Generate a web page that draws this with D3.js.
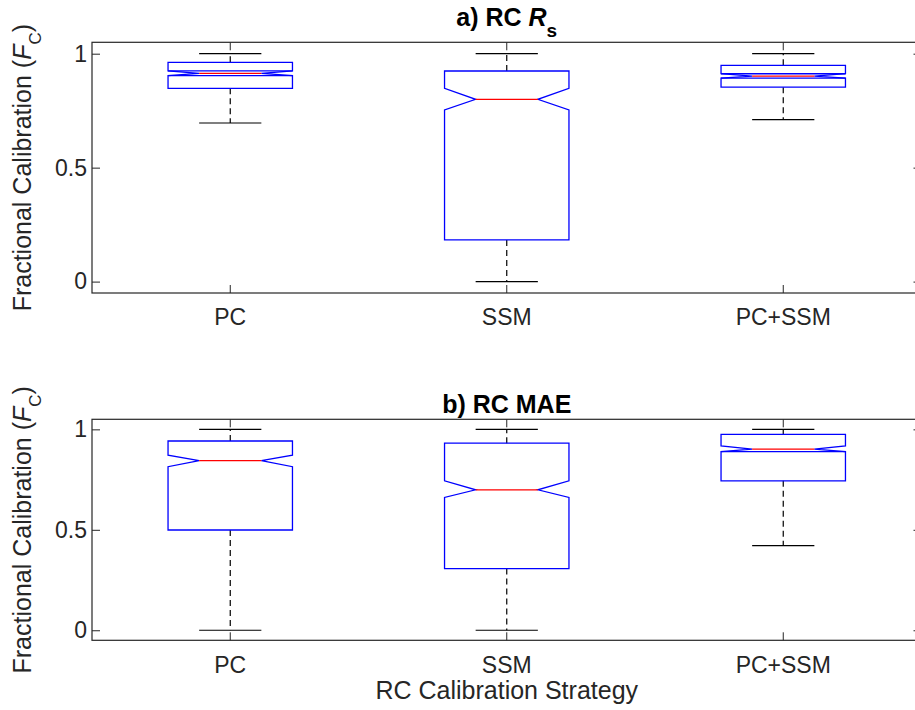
<!DOCTYPE html>
<html>
<head>
<meta charset="utf-8">
<script src="https://d3js.org/d3.v7.min.js"></script>
<style>
  body { margin: 0; background: #ffffff; }
  text { font-family: "Liberation Sans", Arial, sans-serif; fill: #262626; }
  .tick line { stroke: #262626; stroke-width: 1px; }
  .tick text { font-size: 23px; fill: #262626; }
</style>
</head>
<body>
<div id="chart"></div>
<script>

// categories and ticks
const strategies = ["PC", "SSM", "PC+SSM"];
const yTicks = [0, 0.5, 1];

// a) RC Rs  (box stats read off the picture)
const rsWhiskerHi = [1, 1, 1];
const rsQ3        = [0.962, 0.924, 0.949];
const rsNotchHi   = [0.925, 0.848, 0.912];
const rsMedian    = [0.914, 0.800, 0.902];
const rsNotchLo   = [0.904, 0.753, 0.893];
const rsQ1        = [0.848, 0.183, 0.853];
const rsWhiskerLo = [0.696, 0, 0.711];
const rsFoldHi    = [true, false, true];
const rsFoldLo    = [true, false, true];

// b) RC MAE
const maeWhiskerHi = [1, 1, 1];
const maeQ3        = [0.942, 0.931, 0.975];
const maeNotchHi   = [0.871, 0.744, 0.917];
const maeMedian    = [0.844, 0.699, 0.902];
const maeNotchLo   = [0.814, 0.661, 0.889];
const maeQ1        = [0.499, 0.307, 0.744];
const maeWhiskerLo = [0, 0, 0.421];
const maeFoldHi    = [false, false, false];
const maeFoldLo    = [false, false, true];

const W = 915, H = 710;
const left = 92, right = 921.5;

const svg = d3.select("#chart").append("svg")
  .attr("width", W)
  .attr("height", H);

const x = d3.scaleBand()
  .domain(strategies)
  .range([left, right])
  .paddingInner(0)
  .paddingOuter(0);

const panels = [
  { top: 42.3, bottom: 293, titleY: 26, title: "rs",
    whiskerHi: rsWhiskerHi, q3: rsQ3, notchHi: rsNotchHi, median: rsMedian,
    notchLo: rsNotchLo, q1: rsQ1, whiskerLo: rsWhiskerLo, foldHi: rsFoldHi, foldLo: rsFoldLo },
  { top: 419.3, bottom: 640.3, titleY: 413, title: "mae",
    whiskerHi: maeWhiskerHi, q3: maeQ3, notchHi: maeNotchHi, median: maeMedian,
    notchLo: maeNotchLo, q1: maeQ1, whiskerLo: maeWhiskerLo, foldHi: maeFoldHi, foldLo: maeFoldLo }
];

panels.forEach(function(p) {
  const y = d3.scaleLinear().domain([-0.05, 1.05]).range([p.bottom, p.top]);
  const g = svg.append("g");

  // ticks on all four sides, pointing inwards
  g.append("g")
    .attr("transform", `translate(${left},0)`)
    .call(d3.axisLeft(y).tickValues(yTicks).tickSizeInner(-8).tickSizeOuter(0).tickPadding(5).tickFormat(d3.format("")))
    .call(a => a.select(".domain").remove());
  g.append("g")
    .attr("transform", `translate(${right},0)`)
    .call(d3.axisRight(y).tickValues(yTicks).tickSizeInner(-8).tickSizeOuter(0).tickFormat(""))
    .call(a => a.select(".domain").remove());
  g.append("g")
    .attr("transform", `translate(0,${p.bottom})`)
    .call(d3.axisBottom(x).tickSizeInner(-8).tickSizeOuter(0).tickPadding(16))
    .call(a => a.select(".domain").remove());
  g.append("g")
    .attr("transform", `translate(0,${p.top})`)
    .call(d3.axisTop(x).tickSizeInner(-8).tickSizeOuter(0).tickFormat(""))
    .call(a => a.select(".domain").remove());

  // frame
  g.append("rect")
    .attr("x", left).attr("y", p.top)
    .attr("width", right - left).attr("height", p.bottom - p.top)
    .attr("fill", "none")
    .attr("stroke", "#262626")
    .attr("stroke-width", 1.2);

  const bw = x.bandwidth();
  const hw = bw * 0.225, inner = hw / 2;

  strategies.forEach(function(s, i) {
    const cx = x(s) + bw / 2;

    // whiskers
    g.append("line")
      .attr("x1", cx).attr("x2", cx)
      .attr("y1", y(p.q3[i])).attr("y2", y(p.whiskerHi[i]))
      .attr("stroke", "#000").attr("stroke-width", 1.2).attr("stroke-dasharray", "6,4");
    g.append("line")
      .attr("x1", cx).attr("x2", cx)
      .attr("y1", y(p.q1[i])).attr("y2", y(p.whiskerLo[i]))
      .attr("stroke", "#000").attr("stroke-width", 1.2).attr("stroke-dasharray", "6,4");
    [p.whiskerHi[i], p.whiskerLo[i]].forEach(function(v) {
      g.append("line")
        .attr("x1", cx - inner).attr("x2", cx + inner)
        .attr("y1", y(v)).attr("y2", y(v))
        .attr("stroke", "#000").attr("stroke-width", 1.2);
    });

    // notched box
    const pts = [
      [cx - hw, y(p.q1[i])], [cx - hw, y(p.notchLo[i])], [cx - inner, y(p.median[i])],
      [cx - hw, y(p.notchHi[i])], [cx - hw, y(p.q3[i])], [cx + hw, y(p.q3[i])],
      [cx + hw, y(p.notchHi[i])], [cx + inner, y(p.median[i])], [cx + hw, y(p.notchLo[i])],
      [cx + hw, y(p.q1[i])]
    ];
    g.append("path")
      .attr("d", d3.line()(pts) + "Z")
      .attr("fill", "none")
      .attr("stroke", "#0000ff")
      .attr("stroke-width", 1.3);

    if (p.foldHi[i]) {
      g.append("line")
        .attr("x1", cx - hw).attr("x2", cx + hw)
        .attr("y1", y(p.notchHi[i])).attr("y2", y(p.notchHi[i]))
        .attr("stroke", "#0000ff").attr("stroke-width", 1.3);
    }
    if (p.foldLo[i]) {
      g.append("line")
        .attr("x1", cx - hw).attr("x2", cx + hw)
        .attr("y1", y(p.notchLo[i])).attr("y2", y(p.notchLo[i]))
        .attr("stroke", "#0000ff").attr("stroke-width", 1.3);
    }

    // median
    g.append("line")
      .attr("x1", cx - inner).attr("x2", cx + inner)
      .attr("y1", y(p.median[i])).attr("y2", y(p.median[i]))
      .attr("stroke", "#ff0000").attr("stroke-width", 1.3);
  });

  // title
  const t = g.append("text")
    .attr("x", (left + right) / 2)
    .attr("y", p.titleY)
    .attr("text-anchor", "middle")
    .attr("font-size", 25)
    .attr("font-weight", "bold")
    .style("fill", "#000");
  if (p.title === "rs") {
    t.append("tspan").text("a) RC ");
    t.append("tspan").attr("font-style", "italic").text("R");
    t.append("tspan").attr("font-size", 19).attr("dy", 10.5).text("s");
  } else {
    t.text("b) RC MAE");
  }

  // y label
  const cy = (p.top + p.bottom) / 2;
  const yl = g.append("text")
    .attr("transform", `translate(31,${cy}) rotate(-90)`)
    .attr("text-anchor", "middle")
    .attr("font-size", 25);
  yl.append("tspan").text("Fractional Calibration (");
  yl.append("tspan").attr("font-style", "italic").text("F");
  yl.append("tspan").attr("font-size", 17).attr("dy", 10).text("C");
  yl.append("tspan").attr("dy", -10).text(")");
});

// x label
svg.append("text")
  .attr("x", (left + right) / 2)
  .attr("y", 699)
  .attr("text-anchor", "middle")
  .attr("font-size", 25)
  .text("RC Calibration Strategy");

</script>
</body>
</html>
